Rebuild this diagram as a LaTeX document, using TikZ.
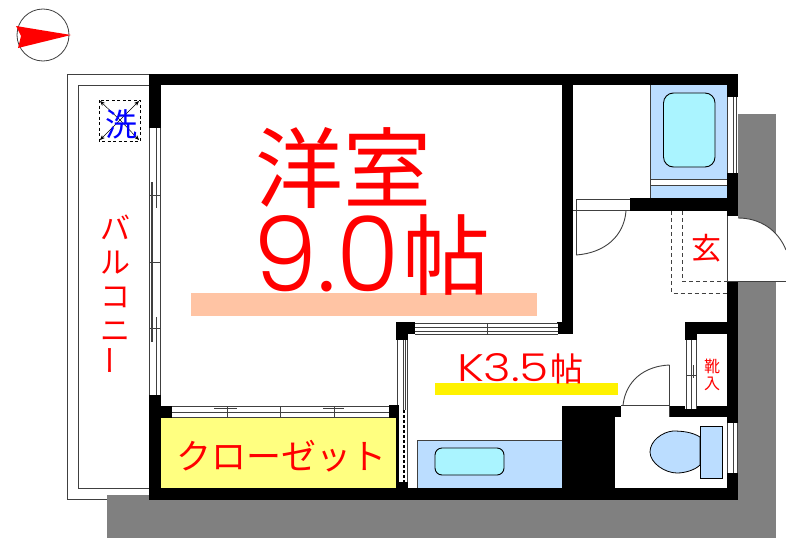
\documentclass[tikz,border=0pt]{standalone}
\usepackage{fontspec}
\setmainfont{Noto Sans CJK JP}
\newfontfamily\digitfont[UprightFont=* Light]{Poppins}
\usetikzlibrary{arrows.meta}
\definecolor{shadowgray}{HTML}{808080}
\definecolor{paleblue}{HTML}{BBDDFF}
\definecolor{palecyan}{HTML}{AAF4FF}
\definecolor{closet}{HTML}{FFFF80}
\definecolor{peach}{HTML}{FFC4A4}
\definecolor{linegray}{HTML}{404040}
\tikzset{
  wall/.style={fill=black,draw=none},
  thin line/.style={draw=linegray,line width=0.9pt},
  win/.style={fill=white,draw=none},
  label/.style={text=red,inner sep=0pt,anchor=center},
  dash line/.style={draw=linegray,line width=0.9pt,dash pattern=on 4pt off 3pt},
}
\begin{document}
\begin{tikzpicture}[x=1pt,y=-1pt]
\useasboundingbox (0,0) rectangle (786,538);
\fill[white] (0,0) rectangle (786,538);
% shadow
\fill[shadowgray] (737,114) rectangle (776,538);
\fill[shadowgray] (107,495) rectangle (776,538);
% compass
\draw[linegray,line width=0.8pt] (43,35) circle (26);
\fill[red] (16,26) -- (71,35) -- (18,48) -- (21,36) -- cycle;
% balcony
\draw[linegray,line width=0.9pt] (67,74) rectangle (149,499.5);
\draw[linegray,line width=0.9pt] (78,85) rectangle (149,488);
\fill[shadowgray] (107,495) rectangle (149,499.8);
\draw[linegray,line width=0.9pt] (67,499.5) -- (107,499.5);
% laundry
\draw[black,line width=0.8pt,dash pattern=on 3pt off 2.5pt] (99,100) rectangle (140,141);
\draw[black,line width=0.5pt,-{Stealth[length=5pt,width=4pt]}] (120,120) -- (100,101);
\draw[black,line width=0.5pt,-{Stealth[length=5pt,width=4pt]}] (120,120) -- (139,101);
\draw[black,line width=0.5pt,-{Stealth[length=5pt,width=4pt]}] (120,120) -- (100,140);
\draw[black,line width=0.5pt,-{Stealth[length=5pt,width=4pt]}] (120,120) -- (139,140);
\node[label,text=blue,font=\fontsize{32}{32}\selectfont] (wash) at (121,124) {洗};
% walls
\fill[wall] (149,74) rectangle (738,85);
\fill[wall] (149,74) rectangle (161,128);
\fill[wall] (149,395) rectangle (161,500);
\fill[wall] (149,488) rectangle (738,500);
\fill[wall] (562,74) rectangle (573,334);
\fill[wall] (727,74) rectangle (738,500);
\fill[wall] (630,198) rectangle (738,211);
\fill[wall] (396,322) rectangle (415,334);
\fill[wall] (396,322) rectangle (408,340);
\fill[wall] (557,322) rectangle (573,334);
\fill[wall] (161,406) rectangle (172,418);
\fill[wall] (389,405) rectangle (408,418);
\fill[wall] (396,405) rectangle (408,500);
\fill[wall] (562,406) rectangle (615,488);
\fill[wall] (562,406) rectangle (738,417);
\fill[wall] (685,322) rectangle (727,334);
\fill[wall] (685,322) rectangle (697,340);
% balcony window
\fill[win] (149,128) rectangle (161,395);
\draw[thin line] (149.5,128) -- (149.5,395);
\draw[thin line] (160.5,128) -- (160.5,395);
\draw[draw=linegray,line width=1.4pt] (152,182) -- (152,342);
\draw[thin line] (156,128) -- (156,208);
\draw[thin line] (156,317) -- (156,395);
\draw[thin line] (149,195) -- (161,195);
\draw[thin line] (149,262) -- (161,262);
\draw[thin line] (149,328) -- (161,328);
% closet
\fill[closet] (161,418) rectangle (396,488);
\fill[win] (172,406) rectangle (389,417);
\draw[thin line] (172,406.5) -- (389,406.5);
\draw[thin line] (172,412) -- (389,412);
\draw[thin line] (172,417) -- (389,417);
\draw[thin line] (227,406) -- (227,417);
\draw[thin line] (280,406) -- (280,417);
\draw[thin line] (334,406) -- (334,417);
\draw[thin line] (214,408.5) -- (237,408.5);
\draw[thin line] (323,408.5) -- (344,408.5);
\node[label,font=\fontsize{35}{35}\selectfont] (closetlabel) at (281,456) {クローゼット};
% kitchen window
\fill[win] (415,323) rectangle (558,334);
\draw[thin line] (415,323.5) -- (558,323.5);
\draw[thin line] (415,327.5) -- (558,327.5);
\draw[thin line] (415,331) -- (558,331);
\draw[thin line] (415,334) -- (558,334);
\draw[thin line] (487,323) -- (487,334);
% west kitchen window
\fill[win] (396,340) rectangle (408,405);
\fill[win] (399,405) rectangle (408,482);
\draw[thin line] (397,340) -- (397,405);
\draw[thin line] (403.5,340) -- (403.5,410);
\draw[thin line] (405.5,340) -- (405.5,410);
\draw[thin line] (407.5,340) -- (407.5,482);
\draw[black,line width=1.2pt,dash pattern=on 3pt off 2pt] (404,410) -- (404,482);
% kitchen counter
\fill[paleblue] (417,440) rectangle (562,488);
\draw[thin line] (417,488) -- (417,440) -- (562,440);
\draw[black,line width=0.9pt,fill=palecyan,rounded corners=7pt] (435,448) rectangle (504,475);
\fill[peach] (191,293) rectangle (537,316);
\fill[yellow] (435,383) rectangle (618,395);
% bath
\fill[paleblue] (650,85) rectangle (727,179);
\fill[paleblue] (650,185) rectangle (727,198);
\draw[thin line] (650,85) -- (650,198);
\draw[thin line] (650,179) -- (727,179);
\draw[thin line] (650,185) -- (727,185);
\draw[black,line width=0.9pt,fill=palecyan,rounded corners=10pt] (663.5,93) rectangle (715,167);
% bath window
\fill[win] (727,97) rectangle (738,173);
\draw[thin line] (727.5,97) -- (727.5,173);
\draw[thin line] (733,97) -- (733,173);
\draw[thin line] (736,97) -- (736,173);
% inner door
\fill[win] (576,199) rectangle (630,210);
\draw[thin line] (576,199) -- (630,199);
\draw[thin line] (573,210.5) -- (630,210.5);
\draw[thin line] (576,199) -- (576,255);
\draw[thin line] (576,255) .. controls (605,253) and (624,236) .. (626,211);
% entrance
\fill[win] (727,216) rectangle (738,281);
\draw[thin line] (727.5,216) -- (727.5,281);
\fill[white] (738,281) -- (738,218) .. controls (760,218) and (778,230) .. (786,250) -- (786,281) -- cycle;
\draw[thin line] (738,218) .. controls (760,218) and (778,230) .. (786,250);
\draw[thin line] (727,281.5) -- (786,281.5);
\draw[dash line] (671.5,211) -- (671.5,293) -- (727,293);
\draw[dash line] (682.5,211) -- (682.5,281.5) -- (727,281.5);
\node[label,font=\fontsize{30}{30}\selectfont] (genkan) at (706,248) {玄};
% shoe closet
\fill[win] (685,340) rectangle (697,409);
\draw[thin line] (686,340) -- (686,409);
\draw[thin line] (691,340) -- (691,409);
\draw[thin line] (696,340) -- (696,409);
\draw[thin line] (686,375) -- (696,375);
\draw[thin line] (693,365) -- (693,378);
\node[label,font=\fontsize{16}{17}\selectfont,align=center] (shoe) at (712,375) {靴\\入};
% toilet door
\fill[white] (621,406) rectangle (670,417);
\draw[thin line] (621,405.5) -- (669.5,405.5) -- (669.5,365);
\draw[thin line] (621,417) -- (670,417);
\draw[thin line] (669.5,405.5) -- (669.5,417);
\draw[thin line] (669.5,365) .. controls (645,366) and (626,380) .. (623,405);
% toilet
\fill[white] (615,417) rectangle (727,488);
\draw[black,line width=0.8pt,fill=paleblue] (700,437) .. controls (692,432) and (682,431) .. (673,431) .. controls (662,432) and (650,441) .. (650,452) .. controls (650,463) and (665,473) .. (677,473) .. controls (685,473) and (695,470) .. (700,465) -- cycle;
\draw[black,line width=1pt,fill=paleblue] (700,426) rectangle (722.5,478);
% toilet window
\fill[win] (727,423) rectangle (738,473);
\draw[thin line] (727.5,423) -- (727.5,473);
\draw[thin line] (733,423) -- (733,473);
\draw[thin line] (737,423) -- (737,473);
% labels
\node[label,font=\fontsize{88}{88}\selectfont] (room) at (343,168) {洋室};
\node[label,font=\fontsize{88}{88}\selectfont] (size) at (372,255) {\resizebox{146pt}{76pt}{\digitfont 9.0}\kern3pt\raisebox{3pt}{帖}};
\node[label,font=\fontsize{33}{33}\selectfont] (kitchen) at (520,369) {\resizebox{92pt}{28pt}{\digitfont K3.5}\kern1pt 帖};
\node[label,font=\fontsize{30}{34}\selectfont,align=center] (balcony) at (115,295) {バ\\ル\\コ\\ニ\\\rotatebox{90}{ー}};
\end{tikzpicture}
\end{document}
